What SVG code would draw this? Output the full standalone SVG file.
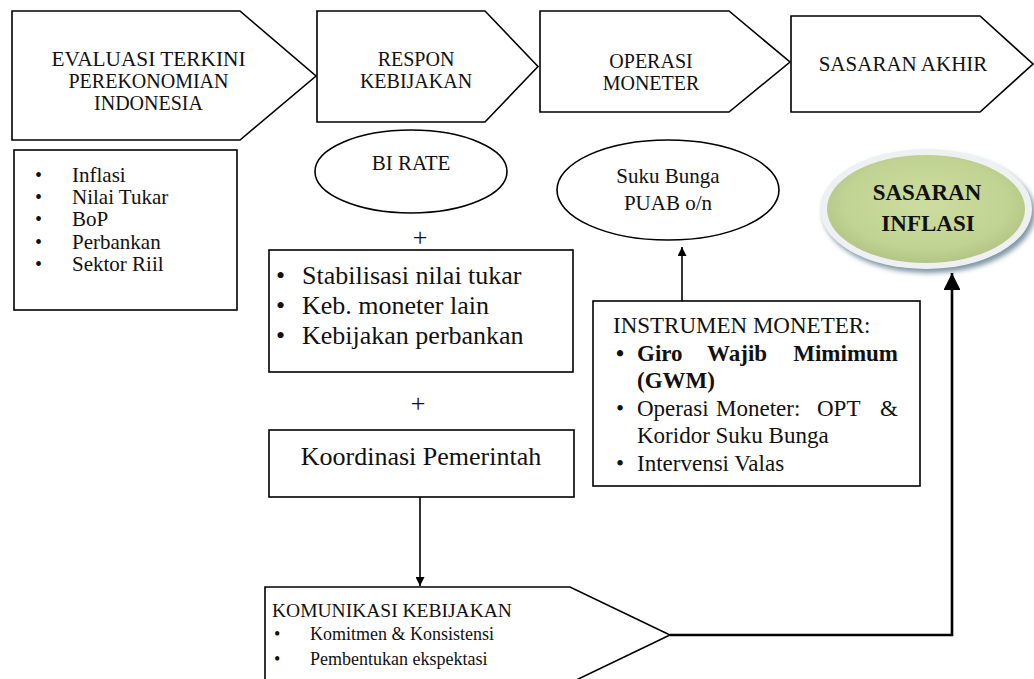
<svg xmlns="http://www.w3.org/2000/svg" width="1034" height="679" viewBox="0 0 1034 679">
<style>
.shp{fill:none;stroke:#000;stroke-width:1.6}
.t{font-family:"Liberation Serif","Times New Roman",serif;fill:#111}
.c{text-anchor:middle}
.f20{font-size:20px}
.f21{font-size:21px}
.f23{font-size:23px}
.f26{font-size:26px}
.b{font-weight:bold}
.ln{fill:none;stroke:#000;stroke-width:1.6}
.lnb{fill:none;stroke:#000;stroke-width:2.6}
</style>
<defs>
<marker id="ah" viewBox="0 0 10 10" refX="10" refY="5" markerWidth="9" markerHeight="9" markerUnits="userSpaceOnUse" orient="auto">
<path d="M0,0 L10,5 L0,10 z" fill="#000"/>
</marker>
<marker id="ahb" viewBox="0 0 10 10" refX="10" refY="5" markerWidth="6.5" markerHeight="6.5" orient="auto">
<path d="M0,0 L10,5 L0,10 z" fill="#000"/>
</marker>
<radialGradient id="green" cx="0.5" cy="0.45" r="0.6">
<stop offset="0" stop-color="#cddd9f"/>
<stop offset="0.7" stop-color="#c1d392"/>
<stop offset="1" stop-color="#aebf7f"/>
</radialGradient>
<filter id="blur" x="-20%" y="-20%" width="140%" height="140%"><feGaussianBlur stdDeviation="2.5"/></filter>
</defs>
<rect x="0" y="0" width="1034" height="679" fill="#fff"/>

<g id="evaluasi">
<polygon class="shp" points="12,11 240,11 316,76 240,140 12,140"/>
<text class="t f20 c" x="148.5" y="66" textLength="194" lengthAdjust="spacingAndGlyphs">EVALUASI TERKINI</text>
<text class="t f20 c" x="148.5" y="88">PEREKONOMIAN</text>
<text class="t f20 c" x="148.5" y="110">INDONESIA</text>
</g>

<g id="respon">
<polygon class="shp" points="317,11 485,11 538,66.5 485,122 317,122"/>
<text class="t f20 c" x="416" y="66">RESPON</text>
<text class="t f20 c" x="416" y="88">KEBIJAKAN</text>
</g>

<g id="operasi">
<polygon class="shp" points="540,11 729,11 790,62 729,112 540,112"/>
<text class="t f20 c" x="651" y="68">OPERASI</text>
<text class="t f20 c" x="651" y="90">MONETER</text>
</g>

<g id="sasaran-akhir">
<polygon class="shp" points="791,16 980,16 1033,64 980,112 791,112"/>
<text class="t f21 c" x="903" y="71">SASARAN AKHIR</text>
</g>

<g id="indikator">
<rect class="shp" x="14" y="150" width="223" height="160"/>
<text class="t f20" x="35" y="182">•</text><text class="t f21" x="72" y="182">Inflasi</text>
<text class="t f20" x="35" y="204">•</text><text class="t f21" x="72" y="204">Nilai Tukar</text>
<text class="t f20" x="35" y="226">•</text><text class="t f21" x="72" y="226">BoP</text>
<text class="t f20" x="35" y="249">•</text><text class="t f21" x="72" y="249">Perbankan</text>
<text class="t f20" x="35" y="271">•</text><text class="t f21" x="72" y="271">Sektor Riil</text>
</g>

<g id="bi-rate">
<ellipse class="shp" cx="411" cy="171.5" rx="96" ry="41.5"/>
<text class="t f21 c" x="411" y="170">BI RATE</text>
</g>

<g id="plus1"><text class="t f26 c" x="420" y="246">+</text></g>

<g id="kebijakan-lain">
<rect class="shp" x="269" y="250" width="304" height="122"/>
<text class="t f26" x="276" y="284">•</text><text class="t f26" x="302" y="284">Stabilisasi nilai tukar</text>
<text class="t f26" x="276" y="314">•</text><text class="t f26" x="302" y="314">Keb. moneter lain</text>
<text class="t f26" x="276" y="344">•</text><text class="t f26" x="302" y="344">Kebijakan perbankan</text>
</g>

<g id="plus2"><text class="t f26 c" x="418" y="412">+</text></g>

<g id="koordinasi">
<rect class="shp" x="269" y="430" width="305" height="67"/>
<text class="t f26 c" x="421" y="465">Koordinasi Pemerintah</text>
</g>

<g id="suku-bunga">
<ellipse class="shp" cx="668" cy="190" rx="111" ry="50"/>
<text class="t f21 c" x="668" y="183">Suku Bunga</text>
<text class="t f21 c" x="668" y="210">PUAB o/n</text>
</g>

<g id="instrumen">
<rect class="shp" x="593" y="301" width="327" height="185"/>
<text class="t f23" x="613" y="333">INSTRUMEN MONETER:</text>
<text class="t f23 b" x="616" y="361">•</text>
<text class="t f23 b" x="637" y="361">Giro</text>
<text class="t f23 b" x="707" y="361">Wajib</text>
<text class="t f23 b" x="898" y="361" text-anchor="end">Mimimum</text>
<text class="t f23 b" x="637" y="388">(GWM)</text>
<text class="t f23" x="616" y="416">•</text>
<text class="t f23" x="637" y="416">Operasi</text>
<text class="t f23" x="716" y="416">Moneter:</text>
<text class="t f23" x="817" y="416">OPT</text>
<text class="t f23" x="898" y="416" text-anchor="end">&amp;</text>
<text class="t f23" x="637" y="443">Koridor Suku Bunga</text>
<text class="t f23" x="616" y="471">•</text>
<text class="t f23" x="637" y="471">Intervensi Valas</text>
</g>

<g id="sasaran-inflasi">
<ellipse cx="929" cy="213" rx="106" ry="60" fill="#7f97a6" filter="url(#blur)"/>
<ellipse cx="926" cy="209" rx="106" ry="60" fill="#eef0f1"/>
<ellipse cx="926" cy="209" rx="99" ry="54" fill="url(#green)"/>
<text class="t f23 b c" x="927" y="200">SASARAN</text>
<text class="t f23 b c" x="928" y="231">INFLASI</text>
</g>

<g id="komunikasi">
<polygon class="shp" points="265,587 570,587 670,635 570,683 265,683"/>
<text class="t" font-size="19.5" x="272" y="617">KOMUNIKASI  KEBIJAKAN</text>
<text class="t" font-size="18" x="274" y="640">•</text>
<text class="t" font-size="18" x="310" y="640">Komitmen &amp; Konsistensi</text>
<text class="t" font-size="18" x="274" y="665">•</text>
<text class="t" font-size="18" x="310" y="665">Pembentukan ekspektasi</text>
</g>

<g id="connectors">
<line class="ln" x1="682" y1="301" x2="682" y2="247" marker-end="url(#ah)"/>
<line class="ln" x1="420" y1="497" x2="420" y2="586" marker-end="url(#ah)"/>
<polyline class="lnb" points="670,635 952,635 952,273" marker-end="url(#ahb)"/>
</g>
</svg>
